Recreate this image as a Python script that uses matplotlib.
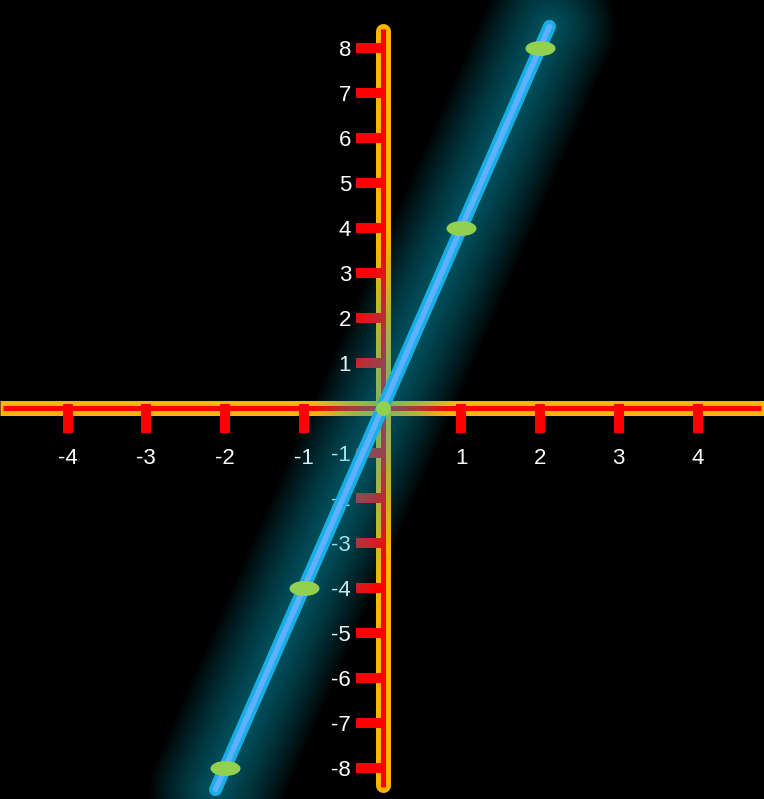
import numpy as np
import matplotlib.pyplot as plt
from matplotlib.path import Path
from matplotlib.transforms import Affine2D

# data points of the line y = 4x
xs = np.array([-2, -1, 0, 1, 2])
ys = np.array([-8, -4, 0, 4, 8])

x_ticks = [-4, -3, -2, -1, 1, 2, 3, 4]
y_ticks = [8, 7, 6, 5, 4, 3, 2, 1, -1, -2, -3, -4, -5, -6, -7, -8]

plt.rcParams['font.family'] = ['Liberation Sans', 'DejaVu Sans']

fig = plt.figure(figsize=(7.64, 7.99), dpi=100, facecolor='black')
ax = fig.add_axes([0, 0, 1, 1])
ax.set_facecolor('black')
ax.set_axis_off()

# pixel scale: 78.75 px per x unit, 45 px per y unit
xlim = (-382.5 / 78.75, (764 - 382.5) / 78.75)
ylim = ((408 - 799) / 45, 408 / 45)
ax.set_xlim(xlim)
ax.set_ylim(ylim)

px = 0.72  # points per pixel at dpi 100

# axes: orange band with red core
ax.plot(xlim, [0, 0], color='#ffb400', lw=15 * px, solid_capstyle='butt', zorder=1)
ax.plot([xlim[0] + 0.04, xlim[1] - 0.04], [0, 0], color='#ff0000', lw=5 * px,
        solid_capstyle='butt', zorder=2)
ax.plot([0, 0], [-8.37, 8.37], color='#ffb400', lw=15 * px, solid_capstyle='round', zorder=1)
ax.plot([0, 0], [-8.42, 8.42], color='#ff0000', lw=5 * px, solid_capstyle='butt', zorder=2)

# tick marks
ax.vlines(x_ticks, -0.556, 0.089, color='#ff0000', lw=10 * px, zorder=3)
ax.hlines(y_ticks, -0.3365, 0.0444, color='#ff0000', lw=10 * px, zorder=3)

# tick labels
for t in x_ticks:
    ax.text(t, -1.13, str(t), color='white', fontsize=16, ha='center', va='center', zorder=4)
for t in y_ticks:
    ax.text(-0.40, t - 0.05, str(t), color='white', fontsize=16, ha='right', va='center', zorder=4)

# the line, extended a little beyond the points
slope = ys[-1] / xs[-1]
ext = 0.12
lx = np.array([xs[0] - ext, xs[-1] + ext])
ly = slope * lx

# glow
for w in np.linspace(130, 12, 22):
    ax.plot(lx, ly, color='#00c4dc', lw=w * px, alpha=0.028,
            solid_capstyle='round', zorder=5)

ax.plot(lx, ly, color='#18aee6', lw=13 * px, solid_capstyle='round', zorder=6)
ax.plot(lx, ly, color='#5fb0ff', lw=5.5 * px, solid_capstyle='round', zorder=6)

# points
circ = Path.unit_circle()
ellipse = Path(Affine2D().scale(1, 0.5).transform(circ.vertices), circ.codes)
mask = xs != 0
ax.plot(xs[mask], ys[mask], ls='none', marker=ellipse, ms=30 * px,
        color='#92d050', mec='none', zorder=7)
ax.plot(xs[~mask], ys[~mask], ls='none', marker='o', ms=15 * px,
        color='#92d050', mec='none', zorder=7)

fig.savefig('out.png', dpi=100, facecolor='black')
